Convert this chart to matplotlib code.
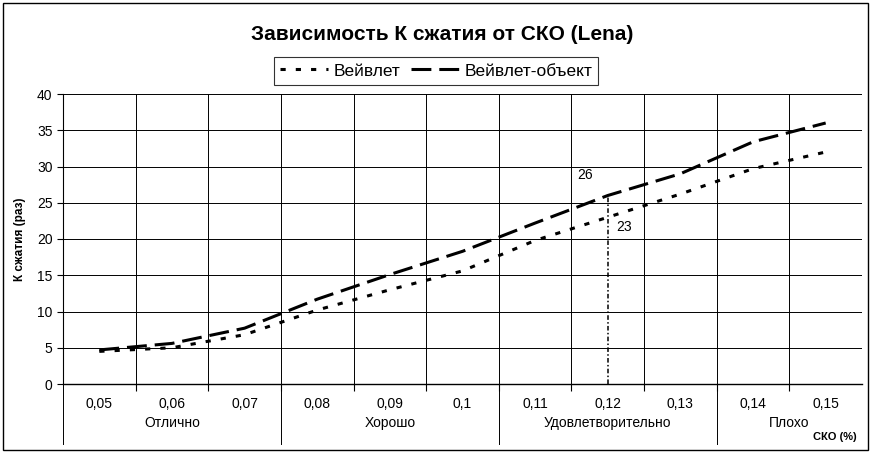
import matplotlib
matplotlib.use("Agg")
from matplotlib import pyplot as plt
from matplotlib.lines import Line2D
from matplotlib.patches import Rectangle
import matplotlib.transforms as mtransforms

plt.rcParams['font.family'] = ['Liberation Sans', 'DejaVu Sans']

# data
sko = ['0,05', '0,06', '0,07', '0,08', '0,09', '0,1', '0,11', '0,12', '0,13', '0,14', '0,15']
wavelet = [4.5, 5.0, 6.8, 10.2, 13.0, 15.6, 19.8, 23.0, 26.2, 29.7, 32.0]
wavelet_obj = [4.7, 5.6, 7.7, 11.7, 15.1, 18.3, 22.2, 26.0, 29.0, 33.4, 36.0]
groups = ['Отлично', 'Хорошо', 'Удовлетворительно', 'Плохо']
group_sizes = [3, 3, 3, 2]
mark_idx = 7

fig = plt.figure(figsize=(8.71, 4.53), dpi=100)
ax = fig.add_axes([63 / 871, 1 - 384 / 453, 799 / 871, 290 / 453])

xs = list(range(len(sko)))
ax.plot(xs, wavelet, color='black', lw=2.2, dashes=(1.7, 3.3), label='Вейвлет')
ax.plot(xs, wavelet_obj, color='black', lw=2.2, dashes=(6.5, 2.6), label='Вейвлет-объект')

# drop line from the marked point
ax.plot([mark_idx, mark_idx], [0, wavelet_obj[mark_idx]], color='black', lw=1.1,
        dashes=(3, 1.5, 1, 1.5))
ax.text(mark_idx - 0.31, wavelet_obj[mark_idx] + 2.8, '%d' % round(wavelet_obj[mark_idx]),
        ha='center', va='center', fontsize=10)
ax.text(mark_idx + 0.23, wavelet[mark_idx] - 1.3, '%d' % round(wavelet[mark_idx]),
        ha='center', va='center', fontsize=10)

ax.set_xlim(-0.5, len(sko) - 0.5)
ax.set_ylim(0, 40)
ax.set_yticks(range(0, 41, 5))
ax.set_xticks(xs)
ax.set_xticklabels(sko)
ax.set_xticks([i + 0.5 for i in range(len(sko) - 1)], minor=True)
ax.tick_params(axis='x', which='major', length=0, pad=9, labelsize=10)
ax.tick_params(axis='x', which='minor', length=5, width=0.8, direction='out')
ax.tick_params(axis='y', length=4, width=0.8, labelsize=10)
ax.grid(True, which='minor', axis='x', color='black', lw=0.7)
ax.grid(True, which='major', axis='y', color='black', lw=0.7)
for s in ['top', 'right']:
    ax.spines[s].set_visible(False)
ax.spines['left'].set_linewidth(0.8)
ax.spines['bottom'].set_linewidth(1.0)

# category groups under the axis
trans = mtransforms.blended_transform_factory(ax.transData, ax.transAxes)
start = -0.5
for name, n in zip(groups, group_sizes):
    ax.add_line(Line2D([start, start], [0, -0.207], transform=trans, color='black',
                       lw=0.7, clip_on=False))
    ax.text(start + n / 2, -0.135, name, transform=trans, ha='center', va='center', fontsize=10)
    start += n

ax.set_ylabel('К сжатия (раз)', fontsize=8.5, fontweight='bold', labelpad=8)
fig.text(835 / 871, 1 - 437 / 453, 'СКО (%)', ha='center', va='center', fontsize=8,
         fontweight='bold')

fig.text(442 / 871, 1 - 34 / 453, 'Зависимость К сжатия от СКО (Lena)', ha='center', va='center',
         fontsize=15, fontweight='bold')
leg = fig.legend(loc='center', bbox_to_anchor=(436 / 871, 1 - 71 / 453), ncol=2,
                 fontsize=12.5, frameon=True, fancybox=False, edgecolor='black',
                 handlelength=2.8, handletextpad=0.3, columnspacing=0.6, borderpad=0.35)
leg.get_frame().set_linewidth(0.8)

fig.patches.append(Rectangle((3 / 871, 3 / 453), 865 / 871, 447 / 453, transform=fig.transFigure,
                             fill=False, edgecolor='black', lw=1.0))

fig.savefig('out.png', dpi=100)
